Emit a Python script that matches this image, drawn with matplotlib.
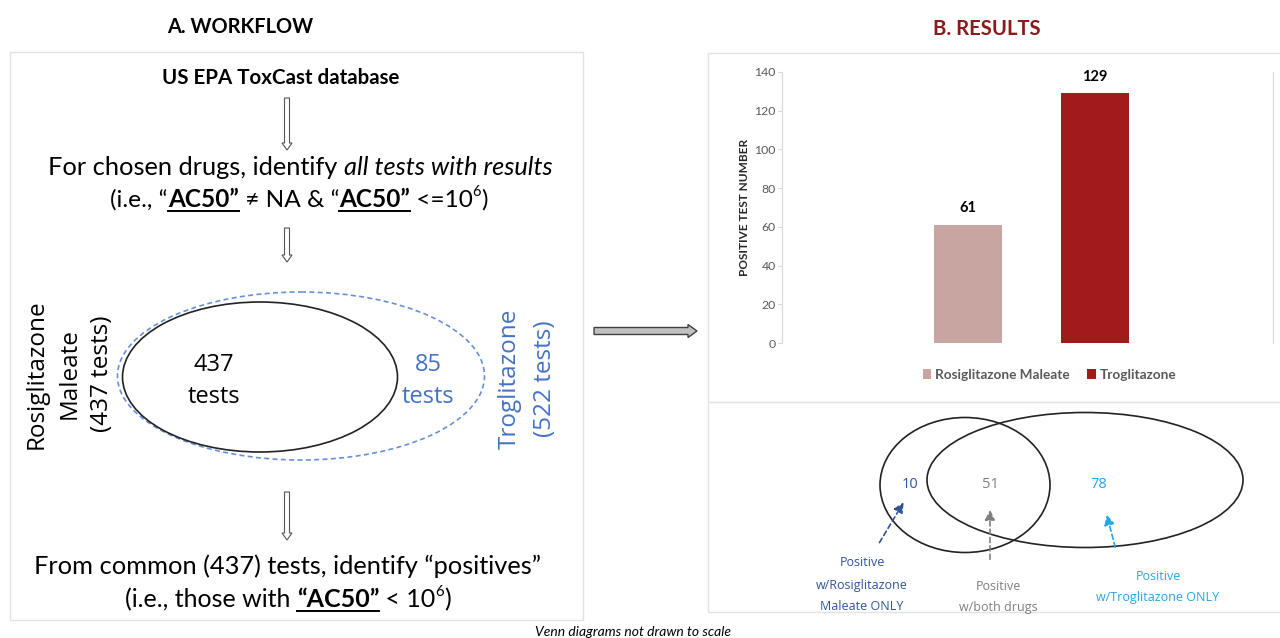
import matplotlib
matplotlib.use("Agg")
import matplotlib.pyplot as plt
from matplotlib.patches import Ellipse, FancyArrow, Rectangle

plt.rcParams['font.family'] = ['Lato', 'DejaVu Sans']

# ---- data ----
drugs = ["Rosiglitazone Maleate", "Troglitazone"]
positive_counts = [61, 129]
bar_colors = ["#C9A5A1", "#A21B1B"]
y_ticks = [0, 20, 40, 60, 80, 100, 120, 140]

rosi_tests = 437
trog_tests = 522
common_tests = 437
trog_extra = trog_tests - common_tests

venn_counts = [10, 51, 78]
venn_colors = ["#2F5597", "#7F7F7F", "#22A7E5"]
venn_labels = [["Positive", "w/Rosiglitazone", "Maleate ONLY"],
               ["Positive", "w/both drugs"],
               ["Positive", "w/Troglitazone ONLY"]]

W, H = 1280, 638
fig = plt.figure(figsize=(W / 100, H / 100), dpi=100)
ax = fig.add_axes([0, 0, 1, 1])
ax.set_xlim(0, W)
ax.set_ylim(H, 0)
ax.axis('off')
renderer = fig.canvas.get_renderer()


def draw_runs(xc, y, runs, size):
    # put pieces of differently styled text side by side, centred on xc
    placed = []
    total = 0
    for s, opts in runs:
        fs = size * 0.6 if opts.get('sup') else size
        dy = -size * 0.6 if opts.get('sup') else 0
        t = ax.text(0, y + dy, s, fontsize=fs, ha='left', va='baseline',
                    style=opts.get('style', 'normal'),
                    weight=opts.get('weight', 'normal'), color='black')
        w = t.get_window_extent(renderer).width
        placed.append((t, w, opts))
        total += w
    x = xc - total / 2
    for t, w, opts in placed:
        t.set_x(x)
        if opts.get('underline'):
            ax.plot([x, x + w], [y + 4, y + 4], color='black', lw=1.4)
        x += w


def down_arrow(x, y0, y1):
    ax.add_patch(FancyArrow(x, y0, 0, y1 - y0, width=5, head_width=10,
                            head_length=7, length_includes_head=True,
                            fc='white', ec='#555555', lw=0.8))


# panel frames
for rect in [(10, 52, 573, 568), (708, 53, 590, 349), (708, 402, 590, 210)]:
    ax.add_patch(Rectangle(rect[:2], rect[2], rect[3], fill=False,
                           ec='#E2E2E2', lw=1))

# ---- A. workflow ----
ax.text(240, 27, "A. WORKFLOW", fontsize=14.4, weight='bold', ha='center', va='center')
ax.text(281, 78, "US EPA ToxCast database", fontsize=14.8, weight='bold',
        ha='center', va='center')
down_arrow(287, 98, 150)

bu = {'weight': 'bold', 'underline': True}
n = {}
draw_runs(300, 175, [("For chosen drugs, identify ", n),
                     ("all tests with results", {'style': 'italic'})], 18.3)
draw_runs(299, 207, [("(i.e., \u201c", n), ("AC50\u201d", bu), (" \u2260 NA & \u201c", n),
                     ("AC50\u201d", bu), (" <=10", n), ("6", {'sup': True}), (")", n)], 17.6)
down_arrow(287, 228, 262)

ax.add_patch(Ellipse((301, 376), 367, 168, fill=False, ec='#6A8FD8', lw=1.2, ls=(0, (3, 2))))
ax.add_patch(Ellipse((260, 377), 275, 150, fill=False, ec='#222222', lw=1.2))
ax.text(214, 365, str(common_tests), fontsize=17, ha='center', va='center', family='Open Sans')
ax.text(214, 397, "tests", fontsize=17, ha='center', va='center', family='Open Sans')
ax.text(428, 365, str(trog_extra), fontsize=17, ha='center', va='center',
        color='#4472C4', family='Open Sans')
ax.text(428, 397, "tests", fontsize=17, ha='center', va='center',
        color='#4472C4', family='Open Sans')

for xp, s in zip([37, 70, 102], ["Rosiglitazone", "Maleate", "(%d tests)" % rosi_tests]):
    ax.text(xp, 374, s, fontsize=17.5, rotation=90, ha='center', va='center', family='Open Sans')
for xp, s in zip([510, 545], ["Troglitazone", "(%d tests)" % trog_tests]):
    ax.text(xp, 379, s, fontsize=17.5, rotation=90, ha='center', va='center',
            color='#4472C4', family='Open Sans')

down_arrow(287, 492, 540)
draw_runs(288, 574, [("From common (%d) tests, identify \u201cpositives\u201d" % common_tests, n)], 18.3)
draw_runs(288, 607, [("(i.e., those with ", n), ("\u201cAC50\u201d", bu), (" < 10", n),
                     ("6", {'sup': True}), (")", n)], 18)

# arrow between panels
ax.add_patch(FancyArrow(594, 331, 103, 0, width=7, head_width=13, head_length=9,
                        length_includes_head=True, fc='#C0C0C0', ec='#404040', lw=1))

# ---- B. results ----
ax.text(987, 29, "B. RESULTS", fontsize=14.6, weight='bold', color='#8B1A1A',
        ha='center', va='center')

bx = fig.add_axes([782 / W, 1 - 343 / H, (1273 - 782) / W, (343 - 72) / H])
bx.patch.set_alpha(0)
bars = bx.bar([0, 1], positive_counts, width=0.53, color=bar_colors)
bx.bar_label(bars, fontsize=10.5, fontweight='bold', padding=7)
bx.set_xlim(-1.465, 2.40)
bx.set_ylim(0, 140)
bx.set_yticks(y_ticks)
bx.set_xticks([])
bx.tick_params(axis='y', color='#D9D9D9', length=3, pad=1.5,
               labelcolor='#595959', labelsize=8.8)
for side in ['top', 'bottom']:
    bx.spines[side].set_visible(False)
for side in ['left', 'right']:
    bx.spines[side].set_color('#D9D9D9')
bx.set_ylabel("POSITIVE TEST NUMBER", fontsize=8.5, weight='bold', color='#262626')
bx.yaxis.set_label_coords(-0.066, 0.5)
bx.legend(bars, drugs, loc='center', bbox_to_anchor=(0.545, -0.118), ncol=2,
          frameon=False, handlelength=0.6, handleheight=0.7, handletextpad=0.3,
          columnspacing=1.3, labelcolor='#595959',
          prop={'size': 9.8, 'weight': 'bold'})

# Venn of positives
ax.add_patch(Ellipse((965, 485), 170, 135, fill=False, ec='#222222', lw=1.2))
ax.add_patch(Ellipse((1085, 480), 316, 135, fill=False, ec='#222222', lw=1.2))
for xp, v, c in zip([910, 990, 1099], venn_counts, venn_colors):
    ax.text(xp, 484, str(v), fontsize=10.5, color=c, ha='center', va='center',
            family='Open Sans')

arrows = [((878, 545), (905, 500)), ((990, 562), (990, 507)), ((1116, 550), (1106, 512))]
for (tail, tip), c in zip(arrows, venn_colors):
    ax.annotate('', xy=tip, xytext=tail,
                arrowprops=dict(arrowstyle='-|>,head_length=0.6,head_width=0.3',
                                ls=(0, (3, 2)), color=c, lw=1.2))

label_pos = [(862, [563, 585, 606]), (998, [586, 607]), (1158, [577, 598])]
for (xp, ys), lines, c in zip(label_pos, venn_labels, venn_colors):
    for yy, s in zip(ys, lines):
        ax.text(xp, yy, s, fontsize=9, color=c, ha='center', va='center',
                family='Open Sans')

ax.text(633, 632, "Venn diagrams not drawn to scale", fontsize=10, style='italic',
        ha='center', va='center')

fig.savefig("out.png", dpi=100)
